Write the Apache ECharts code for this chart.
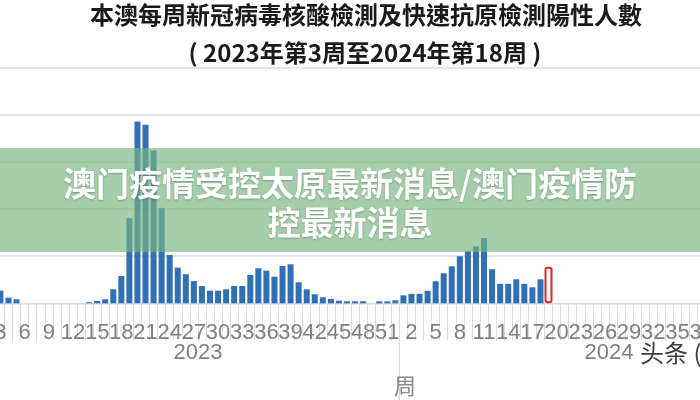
<!DOCTYPE html>
<html><head><meta charset="utf-8">
<script src="https://cdn.jsdelivr.net/npm/echarts@6/dist/echarts.min.js"></script>
<style>html,body{margin:0;padding:0;background:#fff}#c{width:700px;height:400px}</style>
</head><body><div id="c"></div>
<script>
// ---- data ----
const weeks2023 = [3,4,5,6,7,8,9,10,11,12,13,14,15,16,17,18,19,20,21,22,23,24,25,26,27,28,29,30,31,32,33,34,35,36,37,38,39,40,41,42,43,44,45,46,47,48,49,50,51,52];
const weeks2024 = [1,2,3,4,5,6,7,8,9,10,11,12,13,14,15,16,17,18,19,20,21,22,23,24,25,26,27,28,29,30,31,32,33,34,35,36,37,38,39,40,41,42,43,44,45,46,47,48,49,50,51,52];
const positives2023 = [135,60,43,0,0,0,0,0,0,0,0,11,25,43,149,290,904,1932,1897,1624,1011,514,379,309,237,184,134,134,149,184,184,301,372,347,283,397,415,223,149,96,64,46,28,21,21,21,0,21,21,32];
const positives2024 = [85,101,101,133,234,319,394,500,553,606,692,362,207,207,255,207,170,255];
const highlightWeek2024 = 19;
const highlightValue = 388;
const yMin = 0, yMax = 2500, yInterval = 500;
const titleText = '本澳每周新冠病毒核酸檢測及快速抗原檢測陽性人數';
const subtitleText = '( 2023年第3周至2024年第18周 )';
const bannerLines = ['澳门疫情受控太原最新消息/澳门疫情防', '控最新消息'];
const yearLabels = ['2023', '2024'];
const axisName = '周';
const watermark = '头条 (';

// ---- build ----
const categories = weeks2023.map(w => '2023-' + w).concat(weeks2024.map(w => '2024-' + w));
const blueData = categories.map((c, i) => {
  if (i < positives2023.length) return positives2023[i];
  const j = i - positives2023.length;
  return j < positives2024.length ? positives2024[j] : null;
});
const hiIndex = positives2023.length + weeks2024.indexOf(highlightWeek2024);
const redData = categories.map((c, i) => i === hiIndex ? highlightValue : null);

const labelFont = "'Liberation Sans', sans-serif";
const chart = echarts.init(document.getElementById('c'), null, {renderer: 'canvas'});
const gridTop = 68, gridH = 235.3;
chart.setOption({
  animation: false,
  grid: {left: -3.6, width: 822.1, top: gridTop, height: gridH, outerBoundsMode: 'none', containLabel: false},
  xAxis: [{
    type: 'category', data: categories,
    axisLine: {show: true, lineStyle: {color: '#d9d9d9', width: 1}},
    axisTick: {show: true, interval: 0, length: 37, lineStyle: {color: '#dcdcdc', width: 1}},
    axisLabel: {interval: 2, formatter: v => v.split('-')[1], color: '#808080', fontSize: 22, fontFamily: labelFont, margin: 19}
  }, {
    type: 'category', data: categories, show: false
  }],
  yAxis: {
    type: 'value', min: yMin, max: yMax, interval: yInterval,
    axisLabel: {show: false}, axisLine: {show: false}, axisTick: {show: false},
    splitLine: {lineStyle: {color: '#dedede', width: 1.5}}
  },
  series: [{
    type: 'bar', data: blueData, barWidth: 6, itemStyle: {color: '#3070b8'}
  }, {
    type: 'bar', xAxisIndex: 1, data: redData, barWidth: 8, z: 5,
    itemStyle: {color: 'rgba(0,0,0,0)', borderColor: '#e0262b', borderWidth: 2, borderRadius: 2}
  }]
});

const px = c => chart.convertToPixel({xAxisIndex: 0}, c);
const n23 = weeks2023.length;
const sepX = (px(categories[n23 - 1]) + px(categories[n23])) / 2;
const y23 = (px(categories[0]) + px(categories[n23 - 1])) / 2;
const y24 = (px(categories[n23]) + px(categories[categories.length - 1])) / 2;
const baseY = gridTop + gridH;
const cjkTC = "'Noto Sans CJK TC', sans-serif";
const cjkSC = "'Noto Sans CJK SC', sans-serif";

chart.setOption({
  graphic: [
    {type: 'line', shape: {x1: sepX, y1: baseY, x2: sepX, y2: 400}, style: {stroke: '#d4d4d4', lineWidth: 1}},
    {type: 'text', x: y23, y: 353, style: {text: yearLabels[0], fill: '#808080', font: '22px ' + labelFont, textAlign: 'center', textVerticalAlign: 'middle'}},
    {type: 'text', x: y24, y: 353, style: {text: yearLabels[1], fill: '#808080', font: '22px ' + labelFont, textAlign: 'center', textVerticalAlign: 'middle'}},
    {type: 'text', x: 405, y: 386, style: {text: axisName, fill: '#8a8a8a', font: '22px ' + cjkTC, textAlign: 'center', textVerticalAlign: 'middle'}},
    {type: 'text', x: 640, y: 353, style: {text: watermark, fill: '#3c3c3c', font: '24px ' + cjkSC, textAlign: 'left', textVerticalAlign: 'middle'}},
    {type: 'text', x: 366, y: 15, style: {text: titleText, fill: '#1a1a1a', font: 'bold 24px ' + cjkTC, textAlign: 'center', textVerticalAlign: 'middle'}},
    {type: 'text', x: 365, y: 53, style: {text: subtitleText, fill: '#1a1a1a', font: 'bold 24px ' + cjkTC, textAlign: 'center', textVerticalAlign: 'middle'}},
    {type: 'rect', z: 100, shape: {x: 0, y: 148, width: 700, height: 104}, style: {fill: 'rgba(120,180,126,0.66)'}},
    {type: 'text', z: 101, x: 350, y: 183, style: {text: bannerLines[0], fill: '#fff', font: 'bold 33px ' + cjkSC, textAlign: 'center', textVerticalAlign: 'middle', textShadowColor: 'rgba(0,0,0,0.25)', textShadowBlur: 2, textShadowOffsetY: 1}},
    {type: 'text', z: 101, x: 350, y: 222, style: {text: bannerLines[1], fill: '#fff', font: 'bold 33px ' + cjkSC, textAlign: 'center', textVerticalAlign: 'middle', textShadowColor: 'rgba(0,0,0,0.25)', textShadowBlur: 2, textShadowOffsetY: 1}}
  ]
});
</script></body></html>
